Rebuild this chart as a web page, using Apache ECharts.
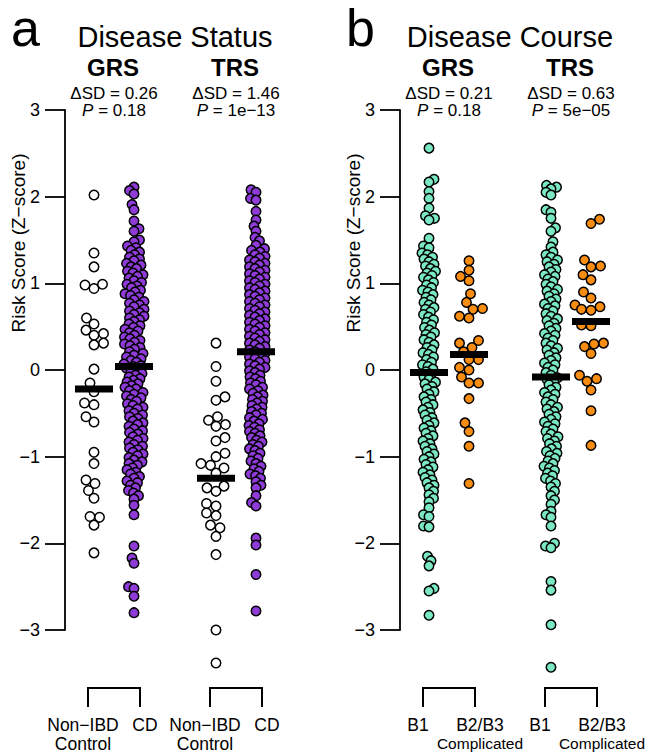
<!DOCTYPE html>
<html>
<head>
<meta charset="utf-8">
<script src="https://cdn.jsdelivr.net/npm/echarts@6.0.0/dist/echarts.min.js"></script>
<style>
html,body{margin:0;padding:0;background:#ffffff;}
#chart{width:645px;height:755px;}
</style>
</head>
<body>
<div id="chart"></div>
<script>
// ---------------- data ----------------
const yTickValues = [-3, -2, -1, 0, 1, 2, 3];
const panelLetters = ['a', 'b'];
const panelTitles = ['Disease Status', 'Disease Course'];
const scoreNames = ['GRS', 'TRS'];
const statusDeltaSD = ['0.26', '1.46'];
const statusP = ['0.18', '1e\u221213'];
const courseDeltaSD = ['0.21', '0.63'];
const courseP = ['0.18', '5e\u221205'];
const statusCategories = ['Non\u2212IBD\nControl', 'CD'];
const courseCategories = ['B1', 'B2/B3\nComplicated'];
const yAxisTitle = 'Risk Score (Z\u2212score)';

// Panel a: Disease Status
const grsControl = [2.02, 1.35, 1.19, 0.98, 0.94, 0.99, 0.60, 0.53, 0.46, 0.40, 0.42, 0.31, 0.29, 0.01,
  -0.15, -0.25, -0.40, -0.38, -0.60, -0.54, -0.95, -1.08, -1.27, -1.31, -1.39, -1.48, -1.70, -1.69, -1.79, -2.11];
const grsCD = [2.11, 2.07, 2.03, 1.91, 1.85, 1.72, 1.63, 1.60, 1.50, 1.48,
  1.43, 1.41, 1.38, 1.36, 1.33, 1.30, 1.28, 1.26, 1.23, 1.21, 1.19, 1.17, 1.14, 1.12, 1.10,
  1.08, 1.06, 1.03, 1.01, 0.99, 0.97, 0.95, 0.92, 0.90, 0.88, 0.86, 0.84, 0.81,
  0.79, 0.77, 0.75, 0.73, 0.70, 0.68, 0.66, 0.64, 0.62, 0.60, 0.58, 0.56, 0.53, 0.51,
  0.49, 0.47, 0.45, 0.43, 0.40, 0.38, 0.36, 0.34, 0.32, 0.30, 0.28, 0.26, 0.24, 0.21,
  0.19, 0.17, 0.15, 0.13, 0.11, 0.09, 0.07, 0.05, 0.04, 0.02, 0.00,
  -0.02, -0.04, -0.06, -0.08, -0.10, -0.12, -0.14, -0.16, -0.18, -0.20,
  -0.22, -0.24, -0.26, -0.28, -0.30, -0.32, -0.34, -0.36, -0.39,
  -0.41, -0.43, -0.45, -0.47, -0.50, -0.52, -0.54, -0.56, -0.59,
  -0.61, -0.63, -0.65, -0.68, -0.70, -0.72, -0.74, -0.77, -0.79,
  -0.81, -0.83, -0.86, -0.88, -0.90, -0.92, -0.95, -0.97, -0.99,
  -1.01, -1.04, -1.06, -1.08, -1.10, -1.13, -1.15, -1.18, -1.20, -1.23, -1.25, -1.28,
  -1.30, -1.33, -1.36, -1.39, -1.42, -1.45,
  -1.49, -1.56, -1.67, -2.03, -2.17, -2.23, -2.50, -2.52, -2.61, -2.80];
const trsControl = [0.31, 0.04, -0.13, -0.31, -0.35, -0.54, -0.58, -0.65, -0.63, -0.78, -0.82, -0.96, -1.00,
  -1.10, -1.13, -1.08, -1.19, -1.34, -1.36, -1.40, -1.54, -1.57, -1.65, -1.68, -1.82, -1.79, -1.92, -2.13, -3.00, -3.38];
const trsCD = [2.08, 2.05, 1.98, 1.96, 1.83, 1.73, 1.66, 1.60, 1.53, 1.49, 1.44,
  1.40, 1.38, 1.36, 1.33, 1.31, 1.29, 1.27, 1.25, 1.23, 1.21, 1.19, 1.17, 1.15, 1.13, 1.11,
  1.09, 1.07, 1.05, 1.03, 1.01, 0.99, 0.97, 0.95, 0.93, 0.91, 0.89, 0.87, 0.85, 0.83, 0.81,
  0.79, 0.77, 0.75, 0.73, 0.71, 0.69, 0.67, 0.65, 0.63, 0.61, 0.59, 0.57, 0.55, 0.53, 0.51,
  0.49, 0.47, 0.45, 0.43, 0.41, 0.39, 0.37, 0.35, 0.33, 0.31, 0.29, 0.27, 0.25, 0.23, 0.21,
  0.19, 0.17, 0.15, 0.13, 0.11, 0.09, 0.07, 0.05, 0.03, 0.01,
  -0.01, -0.03, -0.06, -0.08, -0.10, -0.13, -0.15, -0.17, -0.20, -0.22,
  -0.24, -0.27, -0.29, -0.31, -0.34, -0.36, -0.38, -0.41, -0.43,
  -0.45, -0.48, -0.50, -0.52, -0.55, -0.57, -0.59, -0.62, -0.64, -0.66, -0.69, -0.71,
  -0.73, -0.76, -0.78, -0.81, -0.83, -0.86, -0.88, -0.91, -0.93, -0.96, -0.99, -1.02,
  -1.05, -1.08, -1.11, -1.14, -1.17, -1.20, -1.22, -1.25, -1.29, -1.33, -1.36,
  -1.45, -1.53, -1.57, -1.94, -2.02, -2.36, -2.78];

// Panel b: Disease Course
const grsB1 = [2.56, 2.20, 2.17, 2.06, 1.98, 1.87, 1.78, 1.75, 1.73, 1.52, 1.43, 1.41,
  1.35, 1.33, 1.30, 1.28, 1.25, 1.22, 1.20, 1.17, 1.14, 1.12, 1.09, 1.07, 1.04, 1.01,
  0.98, 0.95, 0.92, 0.90, 0.87, 0.84, 0.81, 0.78, 0.75, 0.72, 0.70, 0.67, 0.64,
  0.61, 0.58, 0.55, 0.52, 0.49, 0.46, 0.43, 0.41, 0.38, 0.35, 0.32, 0.29, 0.26,
  0.23, 0.20, 0.18, 0.15, 0.12, 0.09, 0.06, 0.04, 0.01,
  -0.02, -0.05, -0.08, -0.11, -0.14, -0.16, -0.19, -0.22, -0.25, -0.28, -0.31, -0.34, -0.37,
  -0.40, -0.43, -0.46, -0.49, -0.52, -0.55, -0.58, -0.61, -0.64, -0.67, -0.70, -0.73, -0.76,
  -0.79, -0.82, -0.85, -0.88, -0.91, -0.94, -0.97, -1.00, -1.03, -1.06, -1.09, -1.12, -1.15,
  -1.18, -1.21, -1.24, -1.27, -1.30, -1.33, -1.36, -1.40, -1.44, -1.48, -1.52,
  -1.59, -1.67, -1.69, -1.80, -1.81, -2.15, -2.20, -2.26, -2.52, -2.55, -2.83];
const grsB23 = [1.26, 1.15, 1.08, 1.03, 0.88, 0.78, 0.70, 0.71, 0.62, 0.60, 0.34, 0.31, 0.26, 0.21,
  0.12, 0.12, 0.03, 0.00, -0.08, -0.15, -0.15, -0.33, -0.61, -0.71, -0.88, -1.31];
const trsB1 = [2.13, 2.11, 2.09, 2.05, 2.02, 1.85, 1.82, 1.75, 1.64, 1.60, 1.48, 1.42,
  1.36, 1.33, 1.30, 1.27, 1.25, 1.22, 1.19, 1.16, 1.13, 1.10, 1.08, 1.05, 1.02, 0.99,
  0.96, 0.93, 0.91, 0.88, 0.85, 0.82, 0.79, 0.76, 0.74, 0.71, 0.68, 0.65, 0.62,
  0.59, 0.57, 0.54, 0.51, 0.48, 0.45, 0.42, 0.40, 0.37, 0.34, 0.31, 0.28, 0.25, 0.23,
  0.20, 0.17, 0.14, 0.11, 0.08, 0.06, 0.03, 0.00, -0.03,
  -0.06, -0.09, -0.11, -0.14, -0.17, -0.20, -0.23, -0.26, -0.28, -0.31, -0.34, -0.37, -0.40,
  -0.43, -0.45, -0.48, -0.51, -0.54, -0.57, -0.60, -0.62, -0.65, -0.68, -0.71, -0.74, -0.77, -0.79,
  -0.82, -0.85, -0.88, -0.91, -0.94, -0.96, -0.99, -1.02, -1.05, -1.08, -1.11, -1.13, -1.16,
  -1.19, -1.22, -1.25, -1.28, -1.31, -1.35, -1.40, -1.45, -1.50, -1.55,
  -1.63, -1.67, -1.70, -1.80, -2.00, -2.03, -2.05, -2.44, -2.54, -2.94, -3.43];
const trsB23 = [1.74, 1.69, 1.27, 1.20, 1.19, 1.10, 1.04, 0.90, 0.83, 0.73, 0.69, 0.75, 0.70, 0.52, 0.51,
  0.31, 0.27, 0.19, 0.30, -0.06, -0.10, -0.13, -0.23, -0.47, -0.87];

// group means (black bars)
const statusMeans = [-0.22, 0.04, -1.25, 0.21];
const courseMeans = [-0.03, 0.18, -0.08, 0.56];

// ---------------- layout & style ----------------
const FONT = '"Liberation Sans", Arial, Helvetica, sans-serif';
const PURPLE = '#8E3BD8', TEAL = '#7AE8C5', ORANGE = '#F98D12', OPEN = '#FFFFFF';
const PANEL_LEFT = [65, 400];
const GRID_TOP = 110, GRID_H = 520, GRID_W = 240;
const X_MAX = 12;
const X_PX = GRID_W / X_MAX;           // px per x unit
const Y_PX = GRID_H / (3 - (-3));      // px per y unit
const GROUP_X = [2.45, 8.55];          // group centres (x units)
const SUB_OFF = 1.0, BRACKET_OFF = 1.3, LABEL_OFF = 1.55;
const TICK_LEN = 20;

// beeswarm placement: horizontal offsets computed from the values (layout only)
function swarm(values, center, minDist, cap) {
  const order = values.map((v, i) => i).sort((a, b) => values[a] - values[b]);
  const placed = [];
  const res = new Array(values.length);
  const cands = [0];
  for (let s = 0.5; s <= cap + 1e-9; s += 0.5) cands.push(s, -s);
  order.forEach((i, k) => {
    const py = values[i] * Y_PX;
    const near = placed.filter(p => Math.abs(p[1] - py) < minDist);
    let best = 0, bestD = -1;
    for (const c0 of cands) {
      const c = (k % 2 ? -c0 : c0);
      let d = Infinity;
      for (const p of near) {
        const dd = Math.hypot(p[0] - c, p[1] - py);
        if (dd < d) d = dd;
      }
      if (d >= minDist) { best = c; bestD = d; break; }
      if (d > bestD) { bestD = d; best = c; }
    }
    placed.push([best, py]);
    res[i] = [center + best / X_PX, values[i]];
  });
  return res;
}

const panels = [
  { groups: [
      { vals: grsControl, g: 0, s: 0, fill: OPEN, dense: false },
      { vals: grsCD, g: 0, s: 1, fill: PURPLE, dense: true },
      { vals: trsControl, g: 1, s: 0, fill: OPEN, dense: false },
      { vals: trsCD, g: 1, s: 1, fill: PURPLE, dense: true } ],
    means: statusMeans, cats: statusCategories, deltas: statusDeltaSD, ps: statusP },
  { groups: [
      { vals: grsB1, g: 0, s: 0, fill: TEAL, dense: true },
      { vals: grsB23, g: 0, s: 1, fill: ORANGE, dense: false },
      { vals: trsB1, g: 1, s: 0, fill: TEAL, dense: true },
      { vals: trsB23, g: 1, s: 1, fill: ORANGE, dense: false } ],
    means: courseMeans, cats: courseCategories, deltas: courseDeltaSD, ps: courseP }
];

const subX = (g, s) => GROUP_X[g] + (s === 0 ? -SUB_OFF : SUB_OFF);
const pxX = (p, x) => PANEL_LEFT[p] + x * X_PX;

const grid = [], xAxis = [], yAxis = [], series = [], graphics = [];

panels.forEach((panel, p) => {
  grid.push({ left: PANEL_LEFT[p], top: GRID_TOP, width: GRID_W, height: GRID_H, containLabel: false });
  xAxis.push({ gridIndex: p, type: 'value', min: 0, max: X_MAX, show: false });
  yAxis.push({
    gridIndex: p, type: 'value', min: yTickValues[0], max: yTickValues[yTickValues.length - 1], interval: 1,
    axisLine: { show: true, lineStyle: { color: '#000', width: 1.8 } },
    axisTick: { show: true, length: TICK_LEN, lineStyle: { color: '#000', width: 1.8 } },
    axisLabel: { color: '#000', fontSize: 18, fontFamily: FONT, margin: TICK_LEN + 5,
      formatter: v => (v < 0 ? '\u2212' + (-v) : String(v)) },
    splitLine: { show: false }
  });

  panel.groups.forEach(gr => {
    series.push({
      type: 'scatter', xAxisIndex: p, yAxisIndex: p, clip: false, silent: true,
      symbol: 'circle', symbolSize: 9.5, z: 2,
      itemStyle: { color: gr.fill, borderColor: '#000', borderWidth: 1.5, opacity: 1 },
      data: gr.dense ? swarm(gr.vals, subX(gr.g, gr.s), 5.5, 10) : swarm(gr.vals, subX(gr.g, gr.s), 9.5, 16)
    });
  });

  series.push({
    type: 'scatter', xAxisIndex: p, yAxisIndex: p, clip: false, silent: true, z: 5,
    symbol: 'rect', symbolSize: [38, 7],
    itemStyle: { color: '#000', opacity: 1 },
    data: panel.means.map((m, i) => [subX(i >> 1, i & 1), m])
  });

  const cats = panel.cats;
  series.push({
    type: 'custom', xAxisIndex: p, yAxisIndex: p, clip: false, silent: true, z: 3,
    data: GROUP_X.map(c => [c]),
    renderItem: (params, api) => {
      const c = api.value(0);
      const a = api.coord([c - BRACKET_OFF, -3]);
      const b = api.coord([c + BRACKET_OFF, -3]);
      const l1 = api.coord([c - LABEL_OFF, -3]);
      const l2 = api.coord([c + LABEL_OFF, -3]);
      const yTop = a[1] + 58, yBot = a[1] + 77;
      const mk = (label, x) => {
        const lines = label.split('\n');
        const txt = lines.map((t, i) => '{' + (i > 0 && p === 1 ? 's' : 'm') + '|' + t + '}').join('\n');
        return { type: 'text', x: x, y: yBot + 8,
          style: { text: txt, align: 'center', textAlign: 'center', verticalAlign: 'top', textVerticalAlign: 'top',
            rich: { m: { fontSize: 17.5, fontFamily: FONT, lineHeight: 19, fill: '#000', align: 'center' },
                    s: { fontSize: 15.5, fontFamily: FONT, lineHeight: 19, fill: '#000', align: 'center' } } } };
      };
      return { type: 'group', children: [
        { type: 'polyline', shape: { points: [[a[0], yBot], [a[0], yTop], [b[0], yTop], [b[0], yBot]] },
          style: { stroke: '#000', lineWidth: 2, fill: 'none' } },
        mk(cats[0], l1[0]), mk(cats[1], l2[0])
      ] };
    }
  });

  // titles and annotations
  const txt = (text, x, y, size, opts) => Object.assign({
    type: 'text', x: x, y: y, silent: true,
    style: { text: text, font: (opts && opts.bold ? 'bold ' : '') + size + 'px ' + FONT, fill: '#000',
      align: (opts && opts.align) || 'center', textAlign: (opts && opts.align) || 'center',
      verticalAlign: 'middle', textVerticalAlign: 'middle',
      rich: opts && opts.rich }
  }, opts && opts.extra);
  graphics.push(txt(panelLetters[p], PANEL_LEFT[p] - 54, 28, 52, { align: 'left' }));
  graphics.push(txt(panelTitles[p], (pxX(p, GROUP_X[0]) + pxX(p, GROUP_X[1])) / 2, 37, 29));
  GROUP_X.forEach((gx, g) => {
    const cx = pxX(p, gx);
    graphics.push(txt(scoreNames[g], cx - 1, 67, 24, { bold: true }));
    graphics.push(txt('\u0394SD = ' + panel.deltas[g], cx, 93, 17));
    graphics.push(txt('{i|P} = ' + panel.ps[g], cx, 110.8, 17,
      { rich: { i: { fontStyle: 'italic', fontSize: 17, fontFamily: FONT, fill: '#000' } } }));
  });
  graphics.push(txt(yAxisTitle, PANEL_LEFT[p] - 47, 243, 19,
    { extra: { rotation: Math.PI / 2 } }));
});

const chart = echarts.init(document.getElementById('chart'), null, { renderer: 'svg', width: 645, height: 755 });
chart.setOption({
  animation: false,
  backgroundColor: '#ffffff',
  grid: grid, xAxis: xAxis, yAxis: yAxis, series: series,
  graphic: { elements: graphics }
});
</script>
</body>
</html>
